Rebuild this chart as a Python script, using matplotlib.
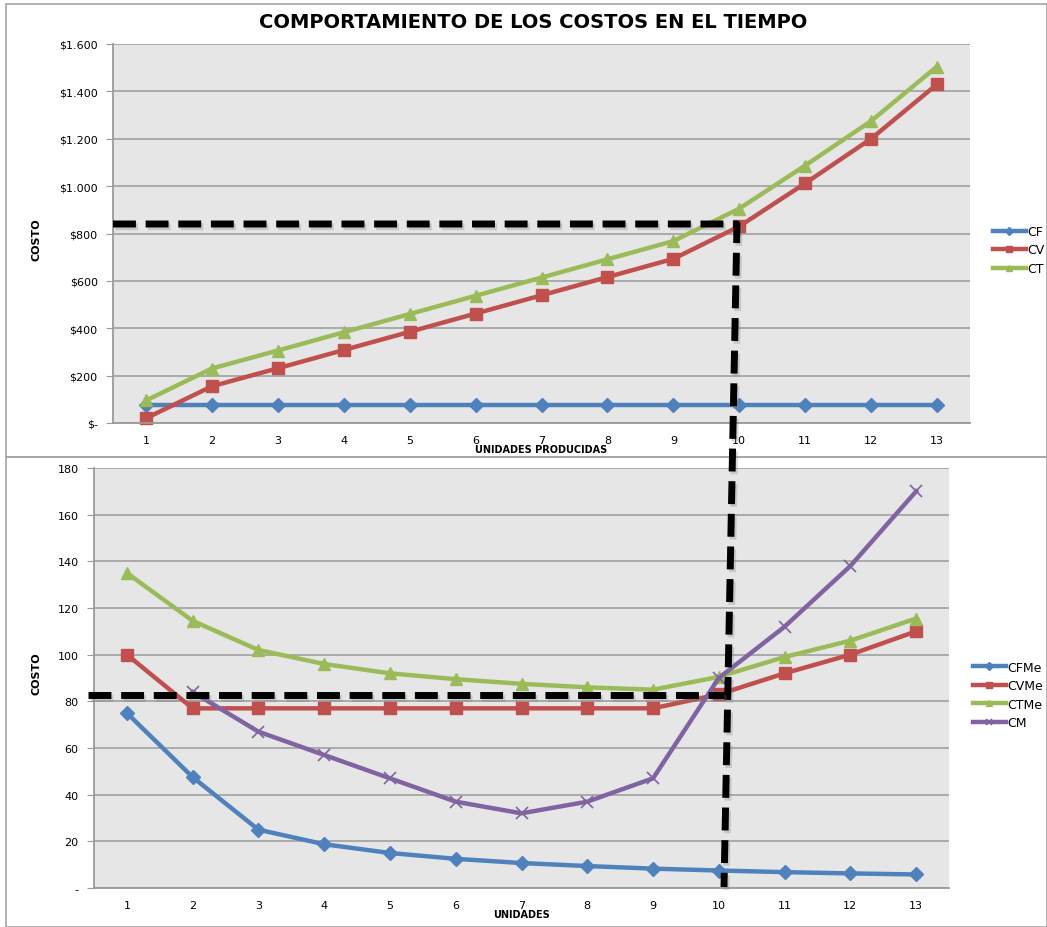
import matplotlib
matplotlib.use("Agg")
import matplotlib.pyplot as plt
import matplotlib.patheffects as pe
from matplotlib.lines import Line2D
from matplotlib.patches import Rectangle
from matplotlib.ticker import FuncFormatter

# unidades producidas
unidades = [1, 2, 3, 4, 5, 6, 7, 8, 9, 10, 11, 12, 13]

# costos totales
cf = [75, 75, 75, 75, 75, 75, 75, 75, 75, 75, 75, 75, 75]
cv = [20, 155, 231, 308, 385, 462, 539, 616, 693, 830, 1012, 1200, 1430]
ct = [95, 230, 306, 383, 460, 537, 614, 691, 768, 905, 1087, 1275, 1505]

# costos medios y marginal
cfme = [75, 47.5, 25, 18.75, 15, 12.5, 10.7, 9.4, 8.3, 7.5, 6.8, 6.25, 5.8]
cvme = [100, 77, 77, 77, 77, 77, 77, 77, 77, 83, 92, 100, 110]
ctme = [135, 114.5, 102, 96, 92, 89.5, 87.5, 86, 85, 90.5, 99, 106, 115.5]
cm_x = [2, 3, 4, 5, 6, 7, 8, 9, 10, 11, 12, 13]
cm = [84, 67, 57, 47, 37, 32, 37, 47, 90, 112, 138, 170]

AZUL = "#4F81BD"
ROJO = "#C0504D"
VERDE = "#9BBB59"
MORADO = "#8064A2"
FONDO = "#E6E6E6"
GRIS = "#9A9A9A"

W, H = 1047, 928
fig = plt.figure(figsize=(W / 100, H / 100), dpi=100)
fig.patch.set_facecolor("white")


def fx(px):
    return px / W


def fy(py):
    return 1 - py / H


# marcos de los dos graficos
for (x0, y0, x1, y1) in [(6, 5, 1047, 458), (6, 458, 1047, 928)]:
    fig.patches.append(Rectangle((fx(x0), fy(y1)), fx(x1) - fx(x0), fy(y0) - fy(y1),
                                 transform=fig.transFigure, fill=False,
                                 edgecolor="#A6A6A6", lw=1.2, zorder=0))

ax1 = fig.add_axes([fx(113), fy(424), fx(970) - fx(113), fy(45) - fy(424)])
ax2 = fig.add_axes([fx(94), fy(889), fx(949) - fx(94), fy(469) - fy(889)])


def estilo(ax, ymax, step, fmt):
    ax.set_facecolor(FONDO)
    ax.set_xlim(0.5, 13.5)
    ax.set_ylim(0, ymax)
    ax.set_yticks(range(0, ymax + 1, step))
    ax.yaxis.set_major_formatter(FuncFormatter(fmt))
    ax.set_xticks(unidades)
    ax.grid(axis="y", color=GRIS, lw=1.1)
    ax.set_axisbelow(True)
    for s in ["top", "right"]:
        ax.spines[s].set_visible(False)
    for s in ["left", "bottom"]:
        ax.spines[s].set_color(GRIS)
        ax.spines[s].set_linewidth(1.3)
    ax.tick_params(axis="y", length=5, color=GRIS, labelsize=8, pad=6)
    ax.tick_params(axis="x", length=0, labelsize=8, pad=9)


def fmt_pesos(v, pos):
    if v == 0:
        return "$-"
    return "$" + f"{int(v):,}".replace(",", ".")


def fmt_num(v, pos):
    return "-" if v == 0 else f"{int(v)}"


estilo(ax1, 1600, 200, fmt_pesos)
estilo(ax2, 180, 20, fmt_num)

kw = dict(lw=3.2, markersize=8, clip_on=False)
ax1.plot(unidades, cf, color=AZUL, marker="D", markersize=7, label="CF", lw=3.2, clip_on=False)
ax1.plot(unidades, cv, color=ROJO, marker="s", label="CV", **kw)
ax1.plot(unidades, ct, color=VERDE, marker="^", label="CT", **kw)

ax2.plot(unidades, cfme, color=AZUL, marker="D", markersize=7, label="CFMe", lw=3.2, clip_on=False)
ax2.plot(unidades, cvme, color=ROJO, marker="s", label="CVMe", **kw)
ax2.plot(unidades, ctme, color=VERDE, marker="^", label="CTMe", **kw)
ax2.plot(cm_x, cm, color=MORADO, marker="x", markeredgewidth=1.2, label="CM", **kw)

fig.text(fx(533), fy(22), "COMPORTAMIENTO DE LOS COSTOS EN EL TIEMPO",
         ha="center", va="center", fontsize=14, fontweight="bold")
fig.text(fx(541), fy(450), "UNIDADES PRODUCIDAS", ha="center", va="center",
         fontsize=7, fontweight="bold")
fig.text(fx(522), fy(915), "UNIDADES", ha="center", va="center",
         fontsize=7, fontweight="bold")
narrow = ["Liberation Sans Narrow", "DejaVu Sans"]
fig.text(fx(37), fy(240), "COSTO", rotation=90, ha="center", va="center",
         fontsize=8, fontweight="bold", family=narrow)
fig.text(fx(37), fy(674), "COSTO", rotation=90, ha="center", va="center",
         fontsize=8, fontweight="bold", family=narrow)

leg_kw = dict(frameon=False, fontsize=9, handlelength=2.6, handletextpad=0.1,
              labelspacing=0.45, borderaxespad=0, markerscale=0.55)
h1, l1 = ax1.get_legend_handles_labels()
fig.legend(h1, l1, loc="center left", bbox_to_anchor=(fx(988), fy(251)), **leg_kw)
h2, l2 = ax2.get_legend_handles_labels()
fig.legend(h2, l2, loc="center left", bbox_to_anchor=(fx(968), fy(696)), **leg_kw)

# guias punteadas que cruzan ambos graficos
sombra = [pe.SimpleLineShadow(offset=(1.5, -2), shadow_color="gray", alpha=0.3),
          pe.Normal()]
guias = [
    ([113, 737, 724], [225, 225, 888]),
    ([88, 724], [696, 696]),
]
for xs, ys in guias:
    ln = Line2D([fx(x) for x in xs], [fy(y) for y in ys], transform=fig.transFigure,
                color="black", lw=5, dashes=(3.3, 1.4), solid_joinstyle="miter",
                path_effects=sombra, zorder=10)
    fig.lines.append(ln)

fig.savefig("out.png", dpi=100)
